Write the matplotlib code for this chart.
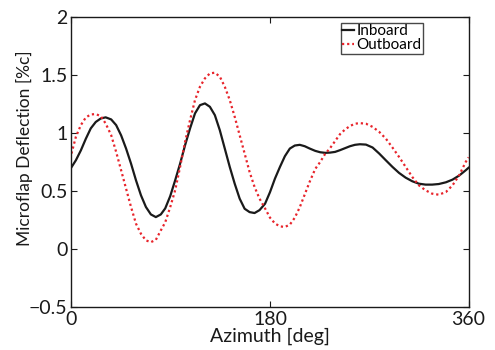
"""Microflap deflection of inboard and outboard flaps over one rotor revolution."""

import matplotlib

matplotlib.use("Agg")
import matplotlib.pyplot as plt  # noqa: E402

# Inboard flap deflection [%c] against azimuth [deg]
inboard_azimuth = [
    0, 4, 8.5, 13, 17.5, 22, 26.5, 31, 36, 40.5, 45, 49.5, 54, 58.5, 63, 67.5,
    72, 76.5, 81, 85, 89.5, 94, 98.5, 103, 107.5, 112, 116.5, 121, 125.5, 130,
    134.5, 139, 143.5, 148, 152.5, 157, 161.5, 166, 170.5, 175.5, 180, 184.5,
    189, 193.5, 198, 202.5, 207, 211.5, 216, 221, 225.5, 230, 234.5, 239,
    243.5, 248, 252.5, 257, 261.5, 267, 273, 279, 285, 291, 297, 303, 309,
    315, 321, 327, 333, 339.5, 345.5, 351.5, 357.5, 360,
]
inboard = [
    0.705, 0.765, 0.85, 0.95, 1.04, 1.095, 1.125, 1.135, 1.117, 1.068, 0.98,
    0.866, 0.736, 0.592, 0.463, 0.362, 0.298, 0.275, 0.298, 0.35, 0.455,
    0.592, 0.736, 0.895, 1.039, 1.169, 1.24, 1.255, 1.226, 1.154, 1.024,
    0.866, 0.708, 0.563, 0.434, 0.347, 0.318, 0.31, 0.335, 0.39, 0.49, 0.607,
    0.707, 0.80, 0.866, 0.892, 0.898, 0.886, 0.866, 0.846, 0.834, 0.829,
    0.831, 0.837, 0.852, 0.869, 0.886, 0.898, 0.903, 0.90, 0.875, 0.823,
    0.765, 0.708, 0.656, 0.615, 0.584, 0.563, 0.555, 0.555, 0.56, 0.575,
    0.598, 0.633, 0.679, 0.70,
]

# Outboard flap deflection [%c] against azimuth [deg]
outboard_azimuth = [
    0, 4, 8.5, 13, 17.5, 22, 26.5, 31, 36, 40.5, 45, 49.5, 54, 58.5, 63, 67.5,
    72, 76.5, 81, 85, 89.5, 94, 98.5, 103, 107.5, 112, 116.5, 121, 125.5, 130,
    134.5, 139, 143.5, 148, 152.5, 157, 161.5, 166, 170.5, 175.5, 180, 184.5,
    189, 193.5, 198, 202.5, 207, 211.5, 216, 221, 225.5, 230, 234.5, 239,
    243.5, 248, 252.5, 257, 261.5, 267, 273, 279, 285, 291, 297, 303, 309,
    315, 321, 327, 333, 339.5, 345.5, 351.5, 357.5, 360,
]
outboard = [
    0.823, 0.967, 1.068, 1.134, 1.16, 1.163, 1.146, 1.082, 0.981, 0.837,
    0.679, 0.52, 0.362, 0.218, 0.131, 0.074, 0.059, 0.079, 0.16, 0.23, 0.36,
    0.506, 0.708, 0.924, 1.111, 1.284, 1.399, 1.471, 1.514, 1.52, 1.486,
    1.399, 1.284, 1.14, 0.981, 0.823, 0.664, 0.535, 0.434, 0.35, 0.27, 0.22,
    0.195, 0.19, 0.21, 0.27, 0.36, 0.47, 0.58, 0.69, 0.75, 0.82, 0.87, 0.93,
    0.99, 1.03, 1.06, 1.08, 1.085, 1.08, 1.053, 1.01, 0.952, 0.875, 0.794,
    0.708, 0.621, 0.549, 0.506, 0.477, 0.468, 0.491, 0.549, 0.635, 0.751,
    0.79,
]

x_ticks = [0, 180, 360]
y_ticks = [-0.5, 0, 0.5, 1, 1.5, 2]
y_tick_labels = ["\u22120.5", "0", "0.5", "1", "1.5", "2"]

plt.rcParams["font.family"] = ["Lato", "DejaVu Sans"]

fig = plt.figure(figsize=(4.95, 3.5), dpi=100)
ax = fig.add_axes([0.1444, 0.1229, 0.8021, 0.8285])

ax.plot(inboard_azimuth, inboard, color="#1a1a1a", linewidth=1.6, label="Inboard")
ax.plot(outboard_azimuth, outboard, color="#e8242b", linewidth=1.6,
        linestyle=(0, (1, 1.3)), label="Outboard")

ax.set_xlim(0, 360)
ax.set_ylim(-0.5, 2)
ax.set_xticks(x_ticks)
ax.set_xticklabels([str(t) for t in x_ticks])
ax.set_yticks(y_ticks)
ax.set_yticklabels(y_tick_labels)
ax.tick_params(direction="in", top=True, right=True, length=4, width=0.8,
               labelsize=14, pad=3, colors="#1a1a1a")
for spine in ax.spines.values():
    spine.set_linewidth(1.0)
    spine.set_color("#1a1a1a")

ax.set_xlabel("Azimuth [deg]", fontsize=14, labelpad=0, color="#1a1a1a")
ax.set_ylabel("Microflap Deflection [%c]", fontsize=12.5, color="#1a1a1a")
ax.yaxis.set_label_coords(-0.097, 0.548)

leg = ax.legend(loc="upper right", bbox_to_anchor=(0.886, 0.98), fontsize=11,
                frameon=True, fancybox=False, handlelength=0.8, handletextpad=0.15,
                borderpad=0.1, labelspacing=0.0, borderaxespad=0)
leg.get_frame().set_edgecolor("#1a1a1a")
leg.get_frame().set_linewidth(1.0)

fig.savefig("out.png", dpi=100)
